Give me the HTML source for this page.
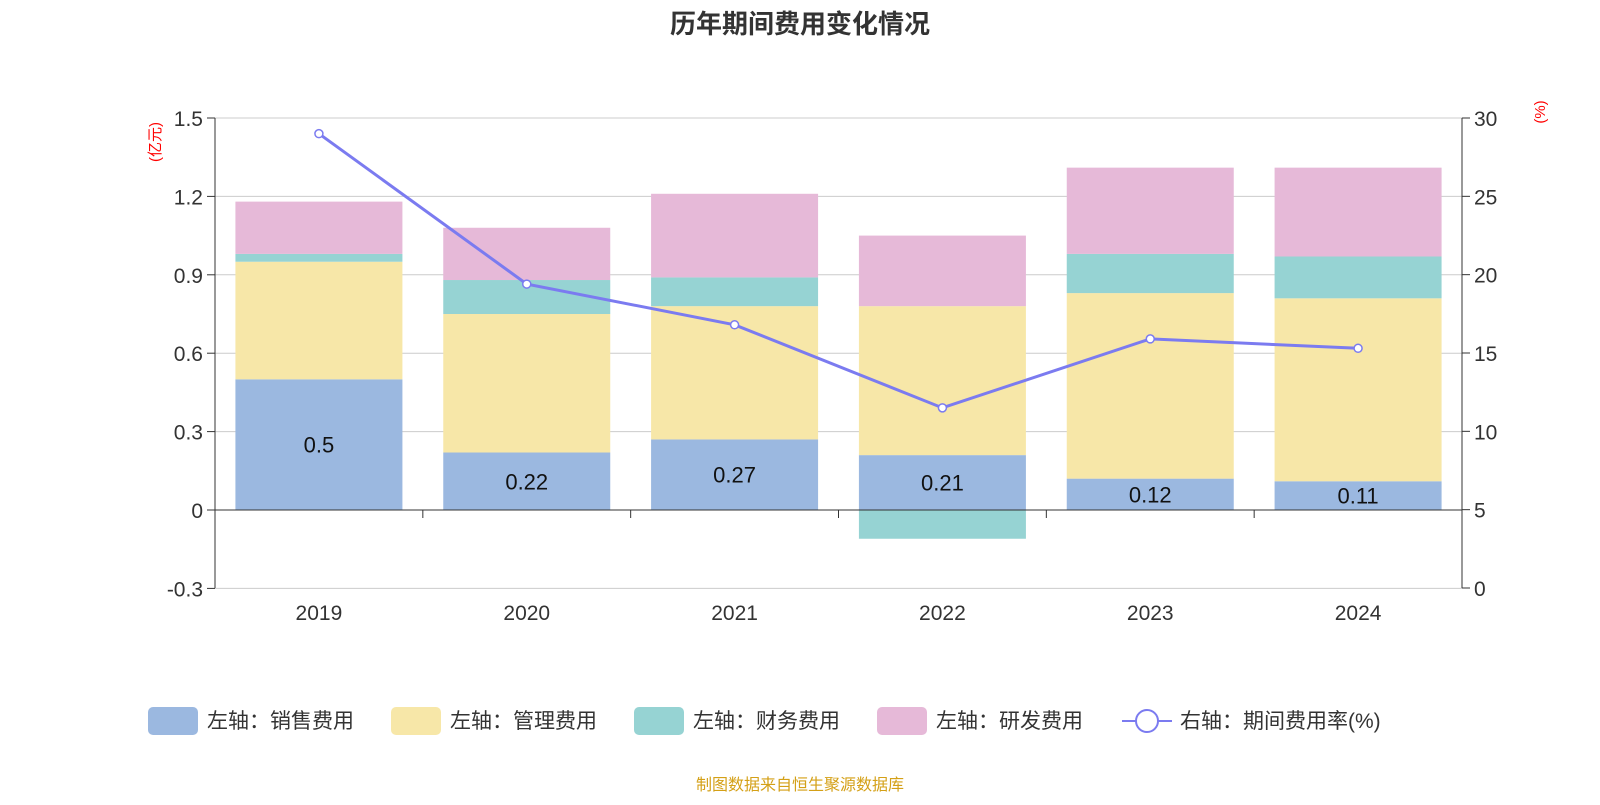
<!DOCTYPE html>
<html><head><meta charset="utf-8"><style>
body{margin:0;width:1600px;height:800px;background:#fff;font-family:"Liberation Sans","Noto Sans CJK SC",sans-serif;}
svg text{font-family:"Liberation Sans","Noto Sans CJK SC",sans-serif;}
</style></head><body>
<svg id="c" width="1600" height="800">
<text x="800" y="33" text-anchor="middle" font-size="26" font-weight="bold" fill="#333">历年期间费用变化情况</text>
<g id="grid"></g><g id="bars"></g><g id="axes"></g><g id="line"></g><g id="legend"></g>
<text x="800" y="790" text-anchor="middle" font-size="16" fill="#d4a017">制图数据来自恒生聚源数据库</text>
</svg>
<script>
const years=["2019","2020","2021","2022","2023","2024"];
const sales=[0.5,0.22,0.27,0.21,0.12,0.11];
const mgmt=[0.45,0.53,0.51,0.57,0.71,0.70];
const fin=[0.03,0.13,0.11,-0.11,0.15,0.16];
const rd=[0.20,0.20,0.32,0.27,0.33,0.34];
const rate=[29.0,19.4,16.8,11.5,15.9,15.3];
const leftTicks=["-0.3","0","0.3","0.6","0.9","1.2","1.5"];
const rightTicks=["0","5","10","15","20","25","30"];
const NS="http://www.w3.org/2000/svg";
const X0=215,X1=1462,T=118,B=588;
const yL=v=>510-v*(392/1.5);
const yR=v=>B-v*(470/30);
const bw=(X1-X0)/years.length;
const cx=i=>X0+bw*(i+0.5);
function el(p,t,a){const e=document.createElementNS(NS,t);for(const k in a)e.setAttribute(k,a[k]);document.getElementById(p).appendChild(e);return e;}
leftTicks.forEach(t=>{const y=yL(+t);
 const g=el('grid','line',{x1:X0,x2:X1,y1:y,y2:y,stroke:'#ccc','stroke-width':1});
 
 el('axes','line',{x1:X0-8,x2:X0,y1:y,y2:y,stroke:'#333'});
 const tx=el('axes','text',{x:X0-12,y:y+8,'text-anchor':'end','font-size':21,fill:'#333'});tx.textContent=t;
 });
rightTicks.forEach(t=>{const y=yR(+t);
 el('axes','line',{x1:X1,x2:X1+8,y1:y,y2:y,stroke:'#333'});
 const tx=el('axes','text',{x:X1+12,y:y+8,'font-size':21,fill:'#333'});tx.textContent=t;
 });
el('axes','line',{x1:X0,x2:X0,y1:T,y2:B,stroke:'#333'});
el('axes','line',{x1:X1,x2:X1,y1:T,y2:B,stroke:'#333'});
el('axes','line',{x1:X0,x2:X1,y1:510,y2:510,stroke:'#333'});
for(let i=1;i<years.length;i++){const x=X0+bw*i;el('axes','line',{x1:x,x2:x,y1:510,y2:518,stroke:'#333'});}
years.forEach((yv,i)=>{const tx=el('axes','text',{x:cx(i),y:620,'text-anchor':'middle','font-size':21,fill:'#333'});tx.textContent=yv;
 });
let t1=el('axes','text',{transform:'translate(160,142) rotate(-90)','text-anchor':'middle','font-size':15,fill:'red'});t1.textContent='(亿元)';

let t2=el('axes','text',{transform:'translate(1545,112) rotate(-90)','text-anchor':'middle','font-size':15,fill:'red'});t2.textContent='(%)';

const series=[[sales,'#9bb8e0','sales'],[mgmt,'#f7e7a8','mgmt'],[fin,'#96d3d3','finance'],[rd,'#e6b9d8','rd']];
years.forEach((yv,i)=>{let pos=0,neg=0;const w=167,x=cx(i)-w/2;
 series.forEach(([arr,col,nm])=>{const v=arr[i];let a,b;
  if(v>=0){a=pos;b=pos+v;pos=b;}else{a=neg;b=neg+v;neg=b;}
  const r=el('bars','rect',{x:x,width:w,y:Math.min(yL(a),yL(b)),height:Math.abs(yL(a)-yL(b)),fill:col});
  });
 const lt=el('bars','text',{x:cx(i),y:(yL(0)+yL(sales[i]))/2+8,'text-anchor':'middle','font-size':22,fill:'#111'});lt.textContent=sales[i];
 });
const pl=el('line','polyline',{points:rate.map((v,i)=>cx(i)+','+yR(v)).join(' '),fill:'none',stroke:'#7b7bf0','stroke-width':3});

rate.forEach((v,i)=>{const c=el('line','circle',{cx:cx(i),cy:yR(v),r:4,fill:'#fff',stroke:'#7b7bf0','stroke-width':1.5});
 });
const leg=[['左轴：销售费用','#9bb8e0',148],['左轴：管理费用','#f7e7a8',391],['左轴：财务费用','#96d3d3',634],['左轴：研发费用','#e6b9d8',877]];
leg.forEach(([t,c,x])=>{const r=el('legend','rect',{x:x,y:707,width:50,height:28,rx:5,fill:c});
 
 const tx=el('legend','text',{x:x+59,y:728,'font-size':21,fill:'#333'});tx.textContent=t;
 });
el('legend','line',{x1:1122,x2:1172,y1:721,y2:721,stroke:'#7b7bf0','stroke-width':2});
el('legend','circle',{cx:1147,cy:721,r:11,fill:'#fff',stroke:'#7b7bf0','stroke-width':2});
const lx=el('legend','text',{x:1180,y:728,'font-size':21,fill:'#333'});lx.textContent='右轴：期间费用率(%)';

</script>
</body></html>
